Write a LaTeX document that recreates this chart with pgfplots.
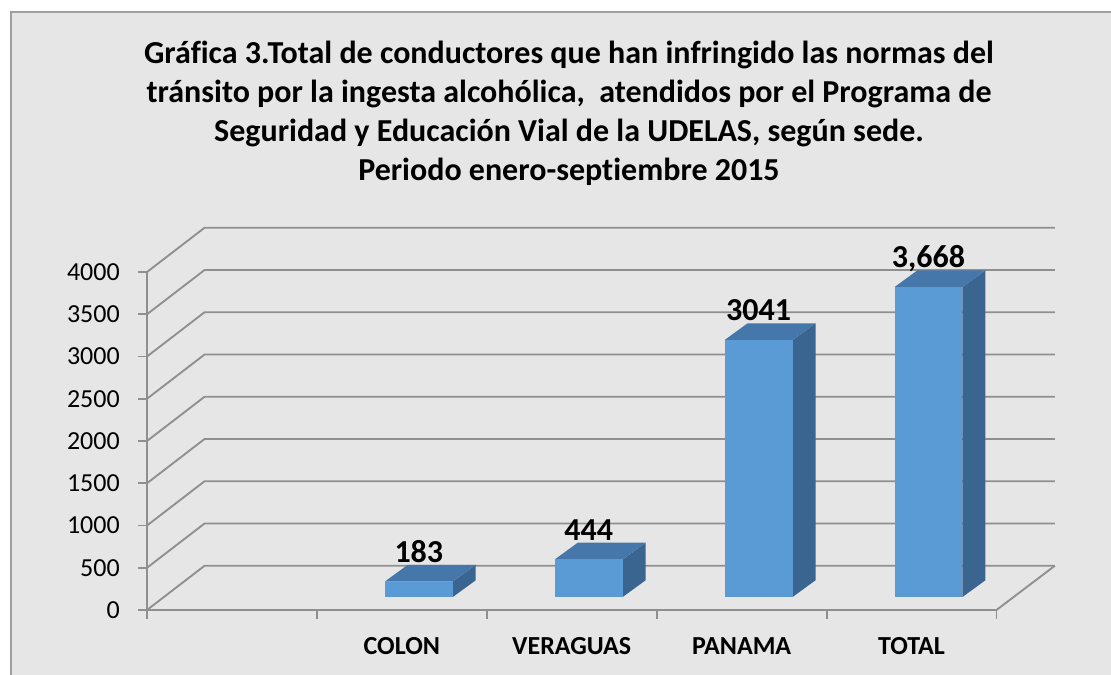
\documentclass[border=0pt]{standalone}
\usepackage{fontspec}
\setmainfont{Carlito}[Ligatures={NoCommon}]
\usepackage{pgfplots}
\usepackage{pgfplotstable}
\pgfplotsset{compat=1.18}
\definecolor{bg}{HTML}{E6E6E6}
\definecolor{framegray}{HTML}{A0A0A0}
\definecolor{gridgray}{HTML}{8F8F8F}
\definecolor{barfront}{HTML}{5B9BD5}
\definecolor{bartop}{HTML}{4677AA}
\definecolor{barside}{HTML}{3A6591}

\pgfplotstableread{
x v label
1 183 183
2 444 444
3 3041 3041
4 3668 {3,668}
}\datatable

\newcommand{\threedbar}[2]{%
  \pgfmathsetmacro\xl{#1+0.4}%
  \pgfmathsetmacro\xr{#1+0.8}%
  \pgfmathsetmacro\xlb{#1+0.535}%
  \pgfmathsetmacro\xrb{#1+0.935}%
  \pgfmathsetmacro\yb{154}%
  \pgfmathsetmacro\yt{154+#2}%
  \pgfmathsetmacro\ybb{154+198}%
  \pgfmathsetmacro\ytb{154+198+#2}%
  \edef\temp{%
    \noexpand\addplot[fill=barside,draw=none] coordinates {(\xr,\yb) (\xrb,\ybb) (\xrb,\ytb) (\xr,\yt)} --cycle;
    \noexpand\addplot[fill=bartop,draw=none] coordinates {(\xl,\yt) (\xr,\yt) (\xrb,\ytb) (\xlb,\ytb)} --cycle;
    \noexpand\addplot[fill=barfront,draw=none] coordinates {(\xl,\yb) (\xr,\yb) (\xr,\yt) (\xl,\yt)} --cycle;
  }%
  \temp
}

\begin{document}
\begin{tikzpicture}
\begin{scope}[x=0.75pt,y=-0.75pt]
\path[use as bounding box] (0,0) rectangle (1111,675);
\fill[white] (0,0) rectangle (1111,675);
\filldraw[fill=bg, draw=framegray, line width=1.5pt] (11,12) rectangle (1130,700);
\begin{scope}[every node/.style={anchor=base, inner sep=0pt, font=\fontsize{24}{28}\selectfont\bfseries}]
\node at (569,63) {Gráfica 3.Total de conductores que han infringido las normas del};
\node at (569,102) {tránsito por la ingesta alcohólica,\ \ atendidos por el Programa de};
\node at (569,141) {Seguridad y Educación Vial de la UDELAS, según sede.};
\node at (569,180) {Periodo enero-septiembre 2015};
\end{scope}
\end{scope}

\begin{axis}[
  at={(110.25pt,-457.5pt)}, anchor=south west,
  scale only axis, width=637.1pt, height=253.5pt,
  xmin=0, xmax=5, ymin=0, ymax=4000,
  clip=false,
  axis x line=bottom, axis y line=left,
  axis line style={draw=none,-},
  major tick length=0pt, tick style={draw=none},
  ytick={0,500,...,4000},
  yticklabel style={font=\fontsize{19.5}{20}\selectfont, anchor=east, inner sep=0pt, xshift=-20.25pt},
  /pgf/number format/1000 sep={},
  /pgf/number format/assume math mode=true,
  xtick={1.5,2.5,3.5,4.5},
  xticklabels={COLON,VERAGUAS,PANAMA,TOTAL},
  xticklabel style={font=\fontsize{19.5}{20}\selectfont\bfseries, anchor=north, inner sep=0pt, yshift=-20.25pt},
]
% walls / grid
\addplot[gridgray, line width=1.4pt] coordinates {(0,0) (0.339,524) (5.344,524)};
\addplot[gridgray, line width=1.4pt] coordinates {(0,500) (0.339,1024) (5.344,1024)};
\addplot[gridgray, line width=1.4pt] coordinates {(0,1000) (0.339,1524) (5.344,1524)};
\addplot[gridgray, line width=1.4pt] coordinates {(0,1500) (0.339,2024) (5.344,2024)};
\addplot[gridgray, line width=1.4pt] coordinates {(0,2000) (0.339,2524) (5.344,2524)};
\addplot[gridgray, line width=1.4pt] coordinates {(0,2500) (0.339,3024) (5.344,3024)};
\addplot[gridgray, line width=1.4pt] coordinates {(0,3000) (0.339,3524) (5.344,3524)};
\addplot[gridgray, line width=1.4pt] coordinates {(0,3500) (0.339,4024) (5.344,4024)};
\addplot[gridgray, line width=1.4pt] coordinates {(0,4000) (0.339,4524) (5.344,4524)};
% floor front and right edge
\addplot[gridgray, line width=1.4pt] coordinates {(0,0) (5,0) (5.344,524)};
% vertical axis
\addplot[gridgray, line width=1.4pt] coordinates {(0,-106) (0,4000)};
% y ticks
\pgfplotsinvokeforeach{0,500,...,4000}{\addplot[gridgray, line width=1.4pt] coordinates {(-0.053,#1) (0,#1)};}
% x ticks
\pgfplotsinvokeforeach{1,...,5}{\addplot[gridgray, line width=1.4pt] coordinates {(#1,0) (#1,-106)};}
% bars
\threedbar{1}{183}
\threedbar{2}{444}
\threedbar{3}{3041}
\threedbar{4}{3668}
% value labels
\addplot[draw=none, mark=none, nodes near coords, point meta=explicit symbolic,
  every node near coord/.append style={anchor=base, inner sep=0pt, font=\fontsize{24}{24}\selectfont\bfseries, text=black}]
  table[x expr=\thisrow{x}+0.6, y expr=\thisrow{v}+383, meta=label] {\datatable};
\end{axis}
\end{tikzpicture}
\end{document}
